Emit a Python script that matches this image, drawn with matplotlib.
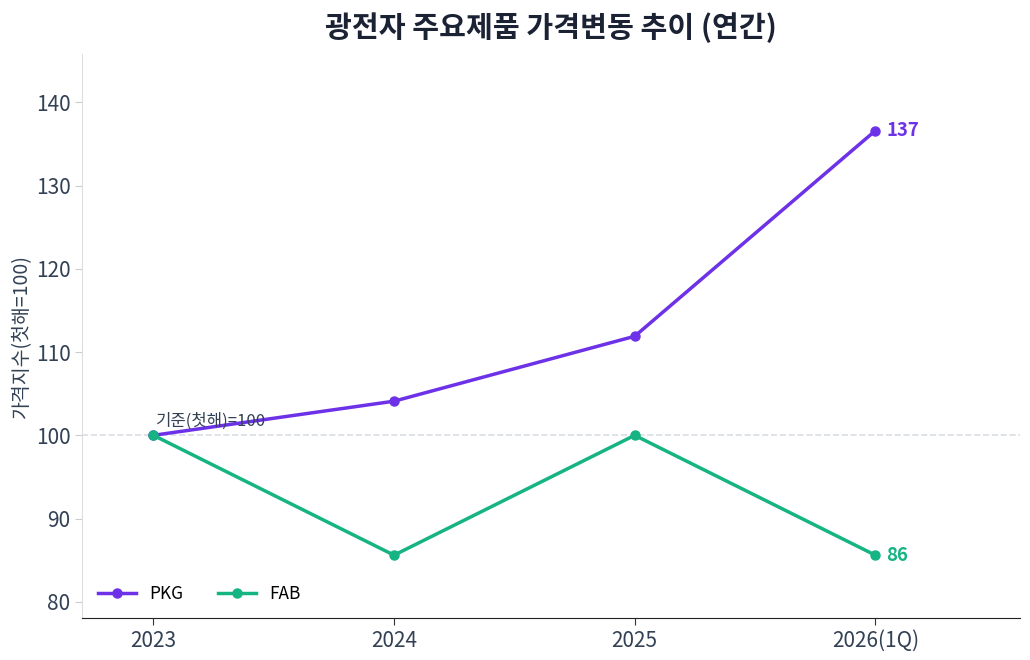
import matplotlib
matplotlib.use("Agg")
import matplotlib.pyplot as plt

plt.rcParams['font.family'] = ['Noto Sans CJK KR', 'DejaVu Sans']

# Data
years = ['2023', '2024', '2025', '2026(1Q)']
pkg = [100.0, 104.1, 111.9, 136.6]
fab = [100.0, 85.6, 100.0, 85.6]

purple = '#6d32e8'
green = '#16b383'
txt = '#334155'

fig = plt.figure(figsize=(10.3, 6.6), dpi=100)
ax = fig.add_axes([0.08, 0.063, 0.91, 0.855])

x = range(len(years))
ax.axhline(100, color='#d9dde3', linestyle='--', linewidth=1.2, zorder=0)
ax.plot(x, pkg, color=purple, linewidth=2.5, marker='o', markersize=6.5, label='PKG')
ax.plot(x, fab, color=green, linewidth=2.5, marker='o', markersize=6.5, label='FAB')

ax.text(x[-1] + 0.045, pkg[-1], f'{pkg[-1]:.0f}', color=purple, fontsize=13.4,
        fontweight='bold', va='center', ha='left')
ax.text(x[-1] + 0.045, fab[-1], f'{fab[-1]:.0f}', color=green, fontsize=13.4,
        fontweight='bold', va='center', ha='left')
ax.text(0.01, 100.6, '기준(첫해)=100', color=txt, fontsize=12, ha='left', va='bottom')

ax.set_xticks(list(x))
ax.set_xticklabels(years)
ax.set_xlim(-0.295, 3.6)
ax.set_ylim(78, 145.8)
ax.set_yticks([80, 90, 100, 110, 120, 130, 140])
ax.tick_params(axis='both', labelsize=15, colors=txt, length=5)
ax.tick_params(axis='y', color='#cccccc')
ax.tick_params(axis='x', color='#333333')
ax.set_ylabel('가격지수(첫해=100)', fontsize=14, color=txt, labelpad=3)

ax.spines['top'].set_visible(False)
ax.spines['right'].set_visible(False)
ax.spines['left'].set_color('#dddddd')
ax.spines['bottom'].set_color('#222222')

ax.legend(loc='lower left', ncol=2, frameon=False, fontsize=12.4, handlelength=2.2,
          columnspacing=2.0, bbox_to_anchor=(0.0, 0.0))

ax.set_title('광전자 주요제품 가격변동 추이 (연간)', fontsize=21, fontweight='bold',
             color='#1a2233', pad=12)

fig.savefig('out.png', dpi=100)
